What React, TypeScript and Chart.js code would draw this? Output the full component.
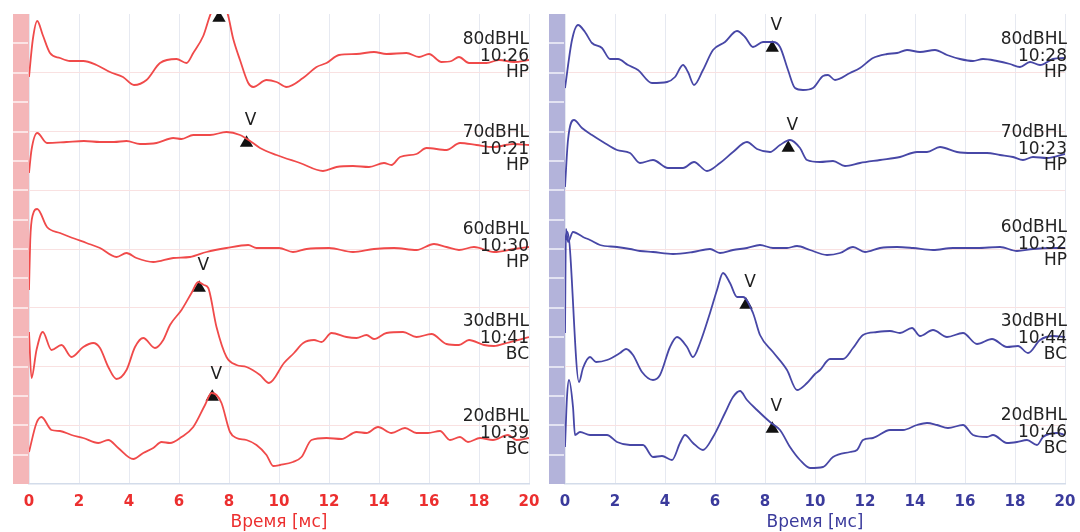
import React, { useEffect, useRef } from 'react';
import { Chart, registerables } from 'chart.js';

Chart.register(...registerables);

// ---------- axis data ----------
const X_MIN = 0;
const X_MAX = 20;
const X_STEP = 2;
const Y_MIN = 0;
const Y_MAX = 470;
const BAR_DIVISIONS = 16;
const axisTitle = 'Время [мс]';

// ---------- red (left) traces: [time ms, amplitude units] ----------
const red80: number[][] = [[0,407],[0.15,444],[0.33,463],[0.55,449],[0.84,431],[1.24,426],[1.64,423],[2.17,423],[2.7,419],[3.24,412],[3.76,407],[4.2,399],[4.7,404],[5.24,421],[5.9,425],[6.3,421],[6.57,431],[6.97,448],[7.3,472],[7.6,478],[7.92,472],[8.17,445],[8.44,424],[8.77,401],[8.97,397],[9.5,404],[9.9,402],[10.3,397],[10.96,406],[11.5,417],[11.9,421],[12.4,429],[13.1,430],[13.8,432],[14.3,430],[15.1,431],[15.6,427],[16.0,430],[16.5,422],[16.9,423],[17.2,427],[17.6,421],[18.3,421],[18.8,424],[19.4,422],[20,424]];
const red70: number[][] = [[0,311],[0.1,334],[0.33,351],[0.72,341],[1.5,342],[2.2,343],[2.84,342],[3.4,342],[3.9,343],[4.44,340],[5.1,341],[5.77,346],[6.1,345],[6.57,349],[7.24,349],[7.9,352],[8.44,349],[8.9,342],[9.24,336],[9.9,329],[10.84,321],[11.76,313],[12.3,317],[12.96,318],[13.6,317],[14.2,321],[14.5,319],[14.84,327],[15.5,330],[15.9,336],[16.7,334],[17.24,341],[17.9,339],[18.56,337],[19.4,340],[20,339]];
const red60: number[][] = [[0,194],[0.05,244],[0.15,269],[0.33,275],[0.72,257],[1.24,251],[1.64,247],[2.3,241],[2.84,236],[3.5,227],[3.9,231],[4.3,226],[4.97,222],[5.77,226],[6.44,227],[7.1,232],[7.9,236],[8.77,239],[9.1,236],[10.0,236],[10.56,232],[11.1,235],[12.0,236],[12.96,232],[13.8,235],[14.6,236],[15.5,234],[16.2,240],[16.7,237],[17.2,234],[17.8,237],[18.6,232],[19.4,235],[20,237]];
const red30: number[][] = [[0,152],[0.1,106],[0.3,134],[0.55,152],[0.9,134],[1.3,139],[1.7,127],[2.17,137],[2.57,141],[2.84,136],[3.17,117],[3.5,105],[3.9,114],[4.24,137],[4.57,146],[5.04,136],[5.37,144],[5.64,159],[6.1,174],[6.5,191],[6.77,202],[7.0,199],[7.17,196],[7.5,157],[7.9,127],[8.3,119],[8.7,117],[9.24,109],[9.6,101],[10.2,121],[10.6,131],[10.97,141],[11.4,144],[11.7,142],[12.1,151],[12.7,147],[13.1,146],[13.5,149],[13.8,145],[14.3,151],[14.96,152],[15.5,147],[16.1,150],[16.7,140],[17.2,139],[17.6,144],[18.2,139],[18.6,138],[19.1,141],[20,147]];
const red20: number[][] = [[0,32],[0.3,61],[0.5,67],[0.9,54],[1.24,53],[1.7,49],[2.17,46],[2.77,41],[3.17,44],[3.57,36],[4.17,25],[4.57,31],[4.97,36],[5.3,42],[5.64,41],[6.1,47],[6.57,57],[7.04,79],[7.3,91],[7.5,89],[7.7,81],[8.04,52],[8.3,46],[8.7,44],[9.1,39],[9.5,29],[9.77,18],[10.04,19],[10.56,22],[10.9,27],[11.3,44],[11.9,46],[12.5,45],[13.1,52],[13.5,51],[13.96,57],[14.5,51],[15.04,56],[15.5,51],[15.96,51],[16.44,53],[16.84,44],[17.24,47],[17.56,42],[18.04,46],[18.56,44],[19.16,49],[19.5,44],[20,46]];
const redMarkers: number[][] = [[7.6,466],[8.7,341],[6.81,196],[7.33,87]];

// ---------- blue (right) traces ----------
const blue80: number[][] = [[0,396],[0.28,444],[0.52,459],[0.8,452],[1.08,441],[1.48,436],[1.8,425],[2.12,425],[2.52,419],[2.92,414],[3.48,401],[4.08,402],[4.4,407],[4.72,419],[4.92,412],[5.16,399],[5.52,414],[5.92,434],[6.4,442],[6.88,453],[7.2,447],[7.52,437],[7.92,442],[8.32,442],[8.6,437],[8.92,414],[9.2,396],[9.52,394],[9.92,396],[10.32,408],[10.52,409],[10.8,404],[11.4,411],[11.8,416],[12.32,426],[12.88,430],[13.28,431],[13.68,434],[14.2,432],[14.8,434],[15.28,429],[15.8,425],[16.32,423],[16.72,425],[17.28,423],[17.8,420],[18.2,417],[18.6,422],[19.0,419],[19.52,425],[20,426]];
const blue70: number[][] = [[0,297],[0.12,344],[0.36,364],[0.68,356],[1.08,349],[1.52,342],[2.08,334],[2.6,331],[3.0,321],[3.52,324],[4.12,316],[4.72,316],[5.16,322],[5.68,313],[6.2,321],[6.72,332],[7.28,342],[7.68,335],[8.2,332],[8.6,339],[9.0,344],[9.4,336],[9.68,324],[10.2,322],[10.72,323],[11.2,318],[11.8,321],[12.6,324],[13.4,327],[14.08,332],[14.48,332],[15.0,337],[15.68,332],[16.32,331],[16.88,331],[17.4,329],[17.92,327],[18.32,324],[18.72,327],[19.28,326],[20,330]];
const blue60: number[][] = [[0,151],[0.04,255],[0.12,242],[0.32,252],[0.72,247],[1.0,244],[1.4,239],[2.08,237],[2.6,235],[3.0,233],[3.52,232],[4.32,230],[5.12,232],[5.8,235],[6.2,231],[6.72,234],[7.28,236],[7.8,239],[8.32,236],[8.88,236],[9.28,238],[9.8,234],[10.48,229],[11.0,231],[11.52,237],[12.0,232],[12.6,236],[13.28,237],[13.92,236],[14.72,234],[15.52,236],[16.48,236],[17.4,237],[18.08,233],[18.72,235],[19.52,236],[20,236]];
const blue30: number[][] = [[0,244],[0.1,252],[0.56,102],[0.72,116],[1.0,127],[1.24,122],[1.68,124],[2.2,131],[2.44,135],[2.72,129],[3.08,112],[3.52,104],[3.8,109],[4.2,137],[4.48,147],[4.88,137],[5.12,127],[5.4,141],[5.8,171],[6.08,194],[6.32,211],[6.6,201],[6.88,187],[7.12,187],[7.52,171],[7.8,149],[8.32,132],[8.88,114],[9.28,94],[9.68,101],[10.0,110],[10.2,114],[10.6,125],[11.12,125],[11.52,136],[11.92,149],[12.48,152],[13.0,153],[13.4,151],[13.88,156],[14.2,148],[14.72,154],[15.28,147],[15.92,151],[16.48,140],[17.08,145],[17.68,137],[18.12,138],[18.52,131],[19.0,144],[19.52,148],[20,147]];
const blue20: number[][] = [[0,37],[0.08,87],[0.16,104],[0.32,77],[0.4,49],[0.6,52],[1.0,49],[1.68,49],[2.08,42],[2.6,39],[3.12,39],[3.52,27],[3.88,28],[4.28,24],[4.6,41],[4.8,49],[5.12,41],[5.52,34],[5.92,47],[6.4,71],[6.72,87],[7.0,93],[7.28,84],[7.68,74],[8.2,62],[8.6,54],[9.0,37],[9.4,24],[9.8,16],[10.32,17],[10.72,27],[11.4,32],[11.68,34],[11.92,44],[12.32,46],[13.0,54],[13.52,54],[14.08,59],[14.48,61],[14.88,59],[15.32,56],[15.92,59],[16.32,49],[16.88,47],[17.12,49],[17.68,41],[18.08,42],[18.48,44],[18.88,39],[19.12,47],[19.68,51],[20,49]];
const blueMarkers: number[][] = [[8.29,436],[8.93,336],[7.24,179],[8.29,55]];

// ---------- trace captions ----------
const redLevels = ['80dBHL', '70dBHL', '60dBHL', '30dBHL', '20dBHL'];
const redTimes = ['10:26', '10:21', '10:30', '10:41', '10:39'];
const redModes = ['HP', 'HP', 'HP', 'BC', 'BC'];
const redCaptionAnchors = [444, 351, 254, 162, 67];

const blueLevels = ['80dBHL', '70dBHL', '60dBHL', '30dBHL', '20dBHL'];
const blueTimes = ['10:28', '10:23', '10:32', '10:44', '10:46'];
const blueModes = ['HP', 'HP', 'HP', 'BC', 'BC'];
const blueCaptionAnchors = [444, 351, 256, 162, 68];

const markerLabel = 'V';

const FONT = '"DejaVu Sans", Verdana, sans-serif';

const sideBarPlugin = {
  id: 'sideBar',
  beforeDatasetsDraw(chart: any, _args: any, opts: any) {
    const { ctx, chartArea, scales } = chart;
    const w = 16;
    ctx.save();
    ctx.fillStyle = opts.color;
    ctx.fillRect(chartArea.left - w, chartArea.top, w, chartArea.bottom - chartArea.top);
    ctx.strokeStyle = 'rgba(255,255,255,0.85)';
    ctx.lineWidth = 1.5;
    for (let i = 1; i < BAR_DIVISIONS; i++) {
      const y = Math.round(scales.y.getPixelForValue(Y_MIN + ((Y_MAX - Y_MIN) * i) / BAR_DIVISIONS));
      ctx.beginPath();
      ctx.moveTo(chartArea.left - w, y);
      ctx.lineTo(chartArea.left - 1, y);
      ctx.stroke();
    }
    ctx.restore();
  },
};

const captionPlugin = {
  id: 'captions',
  afterDatasetsDraw(chart: any, _args: any, opts: any) {
    const { ctx, chartArea, scales } = chart;
    ctx.save();
    ctx.beginPath();
    ctx.rect(chartArea.left, chartArea.top, chartArea.right - chartArea.left, chartArea.bottom - chartArea.top);
    ctx.clip();
    ctx.fillStyle = '#1e1e1e';
    ctx.font = `17px ${FONT}`;
    ctx.textAlign = 'center';
    ctx.textBaseline = 'middle';
    for (const m of opts.markers as number[][]) {
      const x = scales.x.getPixelForValue(m[0]);
      const y = scales.y.getPixelForValue(m[1]);
      ctx.fillText(markerLabel, x + 4, y - 22);
    }
    ctx.restore();

    ctx.save();
    ctx.fillStyle = '#222';
    ctx.font = `17px ${FONT}`;
    ctx.textAlign = 'right';
    ctx.textBaseline = 'middle';
    const lineStep = 16.5;
    (opts.anchors as number[]).forEach((a, i) => {
      const y0 = scales.y.getPixelForValue(a);
      const x = chartArea.right + opts.textShift;
      ctx.fillText(opts.levels[i], x, y0);
      ctx.fillText(opts.times[i], x, y0 + lineStep);
      ctx.fillText(opts.modes[i], x, y0 + 2 * lineStep);
    });
    ctx.restore();
  },
};

type PanelProps = {
  traces: number[][][];
  markers: number[][];
  lineColor: string;
  barColor: string;
  tickColor: string;
  levels: string[];
  times: string[];
  modes: string[];
  anchors: number[];
  padLeft: number;
  padRight: number;
  textShift: number;
};

function Panel(p: PanelProps) {
  const ref = useRef<HTMLCanvasElement | null>(null);
  useEffect(() => {
    if (!ref.current) return;
    const datasets: any[] = p.traces.map((t) => ({
      data: t.map(([x, y]) => ({ x, y })),
      borderColor: p.lineColor,
      borderWidth: 1.8,
      pointRadius: 0,
      fill: false,
      cubicInterpolationMode: 'monotone',
      clip: 0,
    }));
    datasets.push({
      data: p.markers.map(([x, y]) => ({ x, y })),
      showLine: false,
      pointStyle: 'triangle',
      pointRadius: 7.7,
      pointBackgroundColor: '#111',
      pointBorderColor: '#111',
      pointBorderWidth: 0,
      clip: 0,
    });
    const chart = new Chart(ref.current, {
      type: 'line',
      data: { datasets },
      plugins: [sideBarPlugin, captionPlugin],
      options: {
        animation: false,
        responsive: false,
        events: [],
        layout: { padding: { left: p.padLeft, right: p.padRight, top: 14, bottom: 0 } },
        plugins: {
          legend: { display: false },
          tooltip: { enabled: false },
          sideBar: { color: p.barColor },
          captions: {
            markers: p.markers,
            levels: p.levels,
            times: p.times,
            modes: p.modes,
            anchors: p.anchors,
            textShift: p.textShift,
          },
        } as any,
        scales: {
          x: {
            type: 'linear',
            min: X_MIN,
            max: X_MAX,
            afterFit: (s: any) => {
              s.height = 48;
              s.paddingLeft = 0;
              s.paddingRight = 0;
            },
            ticks: {
              stepSize: X_STEP,
              autoSkip: false,
              maxRotation: 0,
              padding: 9,
              color: p.tickColor,
              font: { family: FONT, size: 15, weight: 'bold' },
            },
            grid: { color: '#e6e9f1', lineWidth: 1, drawTicks: false },
            border: { color: '#d3dcea', width: 1.5 },
            title: {
              display: true,
              text: axisTitle,
              color: p.tickColor,
              font: { family: FONT, size: 17 },
              padding: { top: 2, bottom: -1 },
            },
          },
          y: {
            type: 'linear',
            min: Y_MIN,
            max: Y_MAX,
            afterFit: (s: any) => {
              s.width = 0;
              s.paddingTop = 0;
              s.paddingBottom = 0;
            },
            ticks: { display: false, stepSize: (Y_MAX - Y_MIN) / 8 },
            grid: {
              drawTicks: false,
              lineWidth: 1,
              color: (c: any) =>
                c.tick && (c.tick.value <= Y_MIN || c.tick.value >= Y_MAX) ? 'rgba(0,0,0,0)' : '#f9e1e1',
            },
            border: { display: false },
          },
        },
      } as any,
    });
    return () => chart.destroy();
  }, []);
  return <canvas ref={ref} width={540} height={532} style={{ display: 'block', width: 540, height: 532 }} />;
}

export default function App() {
  return (
    <div style={{ position: 'absolute', left: 0, top: 0, width: 1080, height: 532, background: '#fff', display: 'flex' }}>
      <Panel
        traces={[red80, red70, red60, red30, red20]}
        markers={redMarkers}
        lineColor="#f04a4a"
        barColor="#f4b6b8"
        tickColor="#ec2f2f"
        levels={redLevels}
        times={redTimes}
        modes={redModes}
        anchors={redCaptionAnchors}
        padLeft={29}
        padRight={11}
        textShift={0}
      />
      <Panel
        traces={[blue80, blue70, blue60, blue30, blue20]}
        markers={blueMarkers}
        lineColor="#4747a6"
        barColor="#b3b3da"
        tickColor="#3b3b9c"
        levels={blueLevels}
        times={blueTimes}
        modes={blueModes}
        anchors={blueCaptionAnchors}
        padLeft={25}
        padRight={15}
        textShift={2}
      />
    </div>
  );
}
